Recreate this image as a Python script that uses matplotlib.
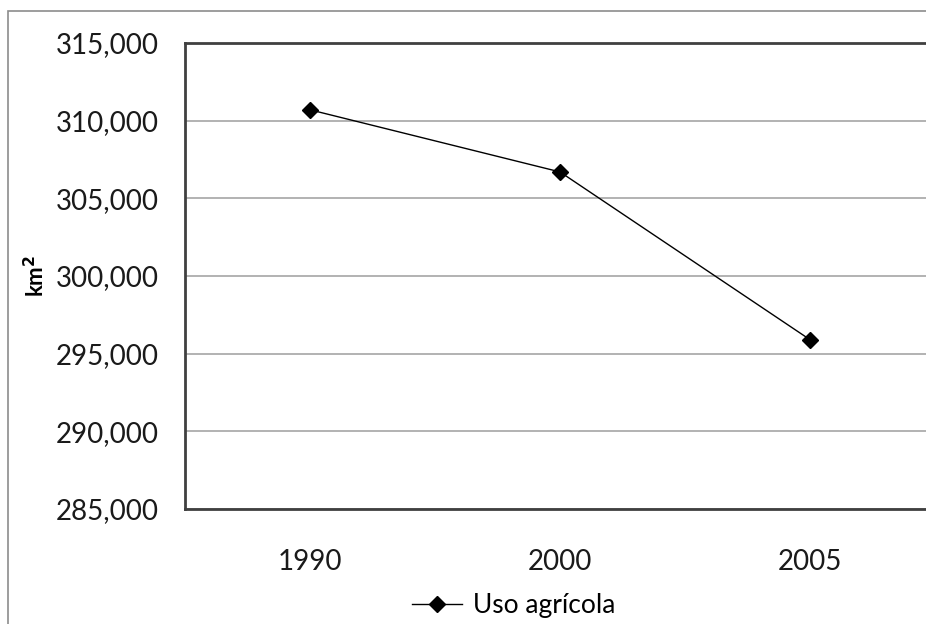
import matplotlib.pyplot as plt
from matplotlib.patches import Rectangle
from matplotlib.ticker import FuncFormatter

years = ['1990', '2000', '2005']
uso_agricola = [310700, 306700, 295900]
y_ticks = [285000, 290000, 295000, 300000, 305000, 310000, 315000]

plt.rcParams['font.family'] = ['Lato', 'DejaVu Sans']

fig = plt.figure(figsize=(9.26, 6.24), dpi=100)
W, H = 926.0, 624.0

# outer chart frame (cut off at right and bottom like the source)
fig.patches.append(Rectangle((8 / W, -0.1), 1.2, 1 - 11 / H + 0.1, transform=fig.transFigure,
                             fill=False, edgecolor='#8c8c8c', linewidth=1.2))

ax = fig.add_axes([185 / W, 1 - 509 / H, 750 / W, (509 - 43) / H])
x = range(len(years))
ax.plot(x, uso_agricola, color='black', linewidth=1, marker='D', markersize=8,
        markerfacecolor='black', label='Uso agrícola', zorder=3)

ax.set_xlim(-0.5, 2.5)
ax.set_ylim(285000, 315000)
ax.set_yticks(y_ticks)
ax.yaxis.set_major_formatter(FuncFormatter(lambda v, p: '{:,.0f}'.format(v)))
ax.set_xticks(list(x))
ax.set_xticklabels(years)
ax.tick_params(axis='both', length=0, labelsize=20, colors='#1a1a1a')
ax.tick_params(axis='y', pad=19)
ax.tick_params(axis='x', pad=29)
ax.grid(axis='y', color='#a6a6a6', linewidth=1.2)
ax.set_axisbelow(True)
for s in ax.spines.values():
    s.set_color('#404040')
    s.set_linewidth(2)

ax.set_ylabel('km$^\\mathbf{2}$', fontsize=16, fontweight='bold', labelpad=5)

fig.legend(loc='center left', bbox_to_anchor=(412 / W, 1 - 606 / H), frameon=False,
           fontsize=19, handlelength=1.9, handletextpad=0.4, borderaxespad=0,
           borderpad=0)

fig.savefig('out.png', dpi=100)
